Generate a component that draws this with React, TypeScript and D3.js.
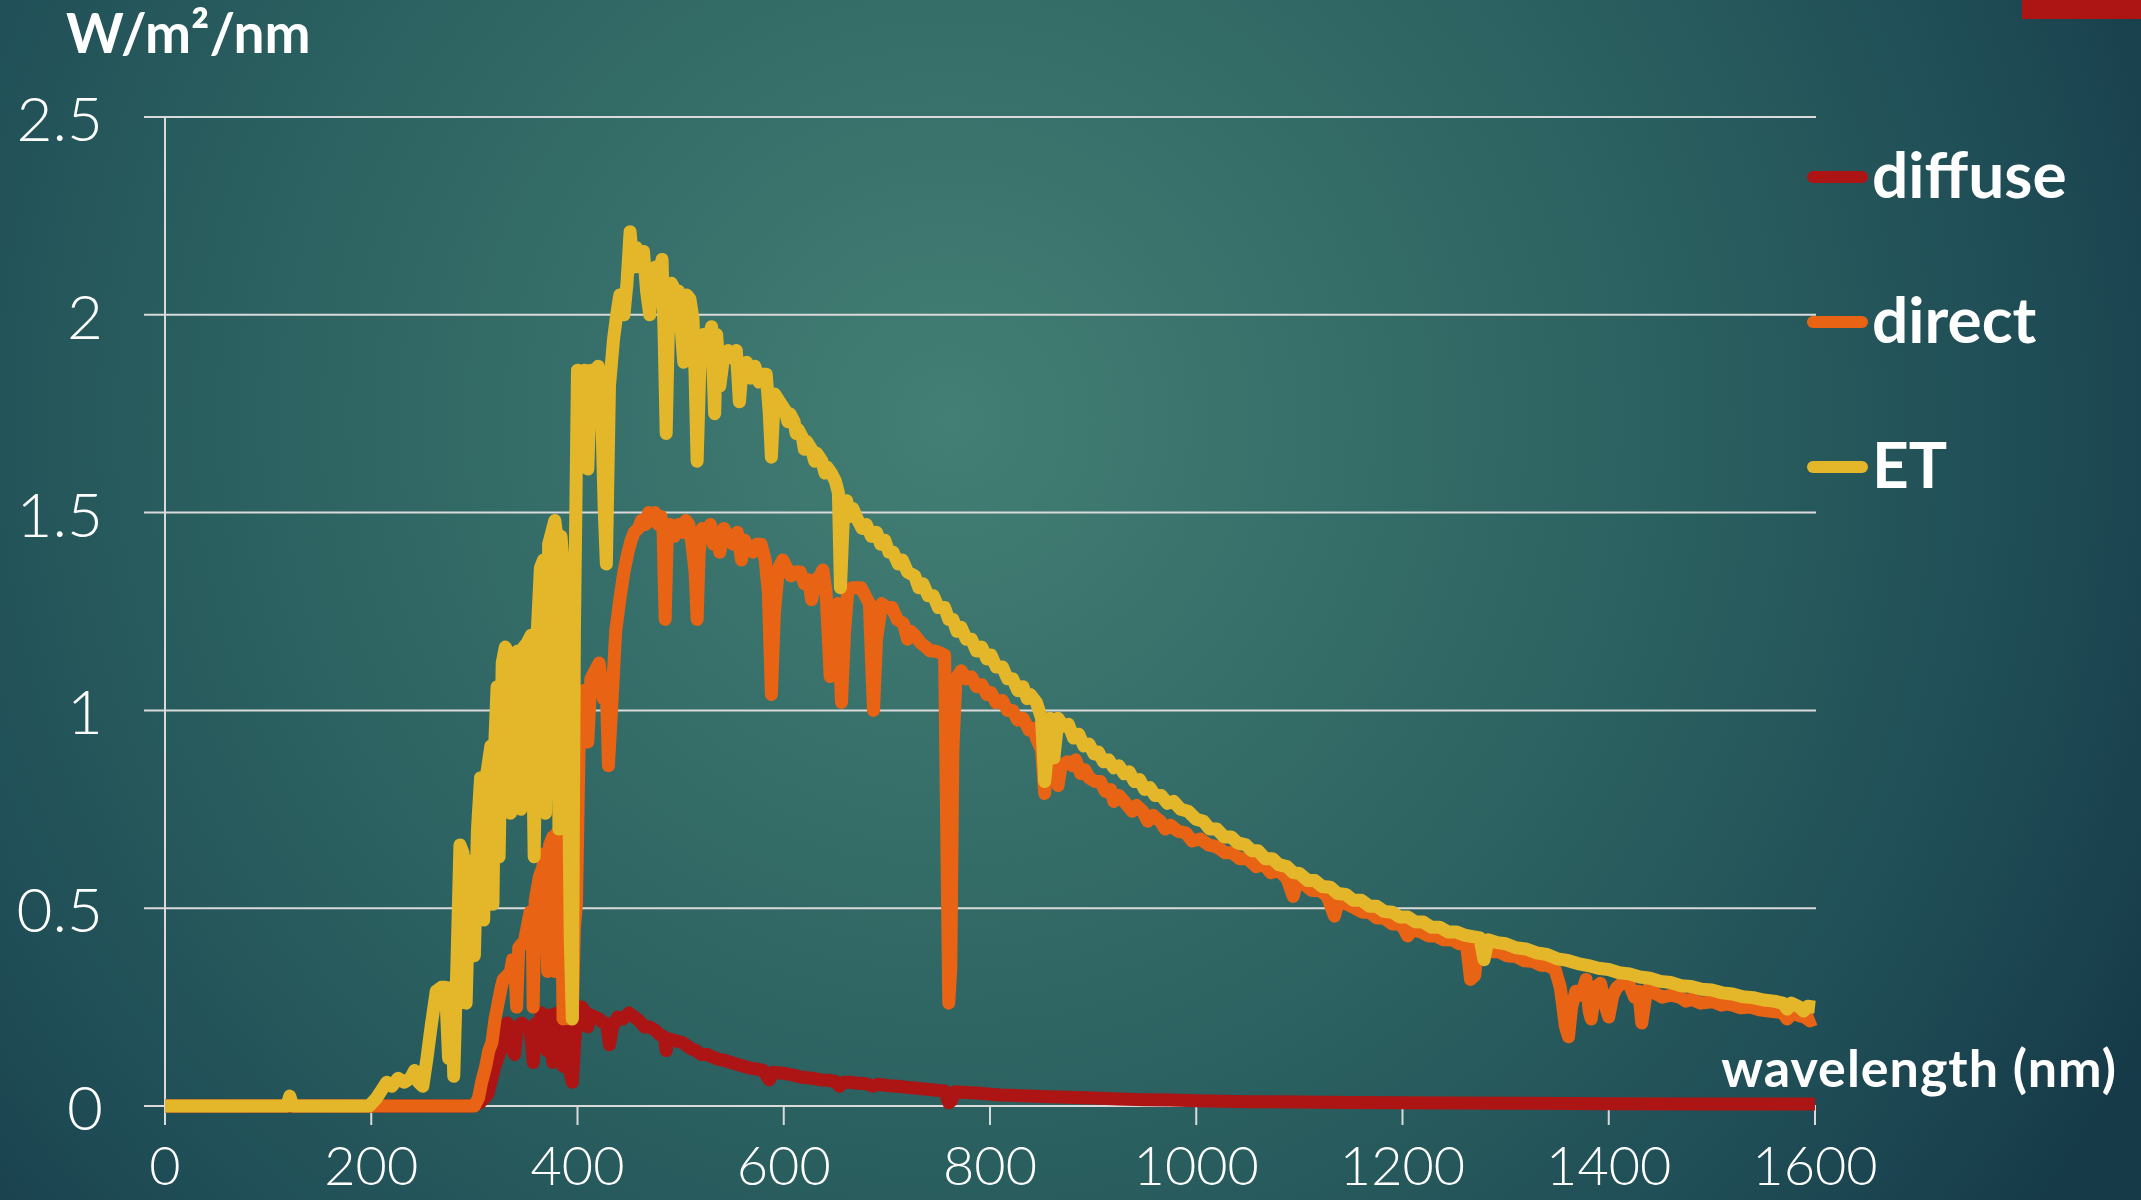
import { useEffect, useRef } from 'react'
import * as d3 from 'd3'

// ---- chart data ----
const xTicks = [0, 200, 400, 600, 800, 1000, 1200, 1400, 1600]
const yTicks = [0, 0.5, 1, 1.5, 2, 2.5]
const yTickLabels = ['0', '0.5', '1', '1.5', '2', '2.5']
const seriesNames = ['diffuse', 'direct', 'ET']
const seriesColors = ['#AD1515', '#E86414', '#E4B72A']

// [wavelength nm, W/m²/nm]
const diffuse: [number, number][] = [
	[0, 0], [300, 0], [306, 0.01], [310, 0.02], [313, 0.03], [317, 0.07], [320, 0.1], [324, 0.13],
	[328, 0.17], [332, 0.21], [335, 0.2], [337, 0.14], [339, 0.13], [342, 0.2], [346, 0.21], [350, 0.2],
	[354, 0.2], [357, 0.11], [360, 0.21], [363, 0.2], [365, 0.235], [368, 0.22], [370, 0.14], [373, 0.23],
	[376, 0.11], [378, 0.2], [380, 0.235], [383, 0.21], [386, 0.1], [388, 0.19], [391, 0.225], [393, 0.08],
	[395, 0.06], [397, 0.15], [400, 0.25], [404, 0.25], [407, 0.24], [410, 0.2], [413, 0.23], [417, 0.225],
	[421, 0.22], [425, 0.21], [428, 0.21], [431, 0.155], [434, 0.2], [439, 0.225], [444, 0.22], [450, 0.235],
	[455, 0.225], [460, 0.215], [465, 0.2], [470, 0.2], [476, 0.19], [480, 0.18], [484, 0.175], [486, 0.14],
	[488, 0.17], [495, 0.165], [502, 0.16], [510, 0.145], [515, 0.14], [520, 0.13], [526, 0.13], [530, 0.125],
	[537, 0.118], [543, 0.115], [549, 0.11], [555, 0.105], [562, 0.1], [569, 0.095], [575, 0.093], [580, 0.09],
	[586, 0.066], [590, 0.085], [599, 0.083], [605, 0.08], [610, 0.078], [615, 0.074], [620, 0.072], [628, 0.07],
	[636, 0.066], [643, 0.065], [650, 0.062], [654, 0.05], [658, 0.06], [664, 0.06], [670, 0.058], [680, 0.056],
	[687, 0.05], [691, 0.055], [700, 0.052], [710, 0.05], [720, 0.047], [730, 0.045], [740, 0.042], [748, 0.04],
	[756, 0.038], [760, 0.008], [763, 0.015], [766, 0.036], [773, 0.035], [790, 0.032], [810, 0.028], [830, 0.026],
	[850, 0.024], [875, 0.022], [900, 0.02], [925, 0.018], [950, 0.016], [975, 0.015], [1000, 0.013], [1050, 0.011],
	[1100, 0.01], [1150, 0.009], [1200, 0.008], [1300, 0.007], [1400, 0.006], [1500, 0.005], [1600, 0.005],
]

const direct: [number, number][] = [
	[0, 0], [300, 0], [304, 0.02], [307, 0.06], [311, 0.1], [314, 0.14], [317, 0.16], [320, 0.22],
	[323, 0.26], [326, 0.3], [328, 0.32], [332, 0.33], [335, 0.34], [337, 0.37], [339, 0.37], [341, 0.25],
	[343, 0.4], [346, 0.41], [348, 0.41], [351, 0.45], [354, 0.49], [356, 0.49], [357, 0.25], [359, 0.52],
	[363, 0.58], [366, 0.6], [369, 0.64], [371, 0.34], [373, 0.66], [376, 0.68], [378, 0.34], [380, 0.69],
	[384, 0.665], [386, 0.22], [388, 0.62], [391, 0.63], [393, 0.22], [395, 0.225], [397, 0.45], [399, 0.51],
	[402, 0.98], [404, 1.03], [406, 1.05], [410, 0.92], [413, 1.08], [417, 1.1], [421, 1.12], [425, 1.03],
	[428, 1.05], [430, 0.86], [433, 1.0], [437, 1.2], [441, 1.28], [445, 1.35], [449, 1.4], [452, 1.43],
	[455, 1.45], [459, 1.46], [462, 1.48], [466, 1.47], [469, 1.5], [472, 1.48], [475, 1.5], [478, 1.47],
	[481, 1.49], [483, 1.45], [485, 1.23], [487, 1.44], [490, 1.47], [494, 1.44], [498, 1.47], [502, 1.45],
	[505, 1.48], [508, 1.47], [511, 1.42], [514, 1.35], [516, 1.23], [518, 1.4], [521, 1.46], [525, 1.45],
	[529, 1.47], [532, 1.42], [535, 1.45], [538, 1.4], [542, 1.46], [547, 1.43], [551, 1.42], [555, 1.45],
	[559, 1.38], [562, 1.43], [566, 1.41], [570, 1.4], [574, 1.42], [578, 1.42], [582, 1.38], [585, 1.3],
	[588, 1.04], [591, 1.25], [595, 1.36], [599, 1.38], [603, 1.36], [607, 1.34], [611, 1.35], [616, 1.35],
	[620, 1.32], [624, 1.33], [627, 1.28], [631, 1.33], [635, 1.34], [638, 1.355], [641, 1.3], [645, 1.085],
	[648, 1.25], [652, 1.27], [656, 1.02], [659, 1.2], [662, 1.3], [666, 1.31], [670, 1.31], [675, 1.31],
	[679, 1.29], [683, 1.27], [687, 1.0], [690, 1.18], [695, 1.27], [700, 1.26], [705, 1.26], [710, 1.23],
	[716, 1.22], [720, 1.18], [723, 1.2], [727, 1.19], [733, 1.17], [738, 1.16], [742, 1.15], [747, 1.15],
	[752, 1.145], [756, 1.14], [758, 0.7], [760, 0.26], [762, 0.35], [764, 0.9], [767, 1.08], [772, 1.1],
	[777, 1.08], [782, 1.085], [787, 1.06], [792, 1.065], [797, 1.04], [801, 1.045], [806, 1.02], [812, 1.025],
	[817, 1.0], [822, 1.0], [827, 0.975], [832, 0.98], [838, 0.95], [842, 0.955], [845, 0.93], [850, 0.9],
	[853, 0.79], [856, 0.9], [860, 0.88], [863, 0.85], [866, 0.81], [869, 0.86], [875, 0.87], [880, 0.86],
	[883, 0.875], [888, 0.84], [892, 0.85], [896, 0.83], [902, 0.82], [907, 0.82], [912, 0.795], [917, 0.8],
	[920, 0.77], [925, 0.785], [930, 0.77], [938, 0.745], [942, 0.76], [948, 0.745], [953, 0.72], [958, 0.735],
	[965, 0.72], [970, 0.7], [975, 0.71], [982, 0.695], [990, 0.69], [996, 0.67], [1004, 0.675], [1012, 0.66],
	[1020, 0.655], [1028, 0.64], [1035, 0.64], [1042, 0.625], [1050, 0.625], [1058, 0.605], [1066, 0.61],
	[1072, 0.59], [1080, 0.595], [1088, 0.575], [1094, 0.53], [1098, 0.57], [1105, 0.56], [1112, 0.545],
	[1120, 0.545], [1127, 0.53], [1134, 0.48], [1138, 0.52], [1146, 0.51], [1154, 0.5], [1161, 0.49],
	[1168, 0.49], [1175, 0.475], [1182, 0.475], [1190, 0.46], [1197, 0.46], [1201, 0.45], [1205, 0.43],
	[1210, 0.445], [1218, 0.44], [1225, 0.43], [1232, 0.43], [1240, 0.42], [1248, 0.42], [1255, 0.41],
	[1262, 0.41], [1266, 0.32], [1270, 0.33], [1273, 0.4], [1280, 0.4], [1285, 0.39], [1293, 0.39],
	[1301, 0.38], [1310, 0.378], [1318, 0.367], [1326, 0.366], [1334, 0.356], [1341, 0.355], [1348, 0.345],
	[1353, 0.3], [1355, 0.26], [1358, 0.2], [1361, 0.175], [1364, 0.25], [1368, 0.29], [1373, 0.28], [1378, 0.32],
	[1381, 0.24], [1383, 0.22], [1387, 0.3], [1392, 0.31], [1397, 0.25], [1400, 0.225], [1404, 0.28], [1408, 0.3],
	[1413, 0.31], [1417, 0.32], [1421, 0.3], [1425, 0.275], [1429, 0.29], [1432, 0.21], [1436, 0.28], [1439, 0.3],
	[1445, 0.285], [1452, 0.275], [1460, 0.28], [1469, 0.275], [1475, 0.265], [1480, 0.27], [1489, 0.26],
	[1495, 0.262], [1500, 0.265], [1509, 0.255], [1515, 0.258], [1520, 0.255], [1528, 0.248], [1537, 0.25],
	[1546, 0.243], [1555, 0.24], [1562, 0.238], [1569, 0.235], [1573, 0.22], [1578, 0.235], [1585, 0.228],
	[1590, 0.225], [1595, 0.215], [1600, 0.22],
]

const et: [number, number][] = [
	[0, 0], [118, 0], [121, 0.025], [124, 0], [198, 0], [205, 0.02], [210, 0.04], [215, 0.06],
	[220, 0.05], [226, 0.07], [232, 0.06], [238, 0.07], [242, 0.09], [246, 0.06], [250, 0.05], [254, 0.12],
	[258, 0.2], [263, 0.29], [268, 0.3], [272, 0.3], [275, 0.12], [278, 0.3], [280, 0.075], [283, 0.35],
	[286, 0.66], [289, 0.64], [292, 0.26], [295, 0.56], [298, 0.62], [300, 0.38], [303, 0.7], [306, 0.83],
	[309, 0.47], [312, 0.84], [316, 0.91], [318, 0.51], [320, 0.93], [322, 1.06], [324, 0.63], [327, 1.12],
	[330, 1.16], [333, 1.14], [335, 0.74], [338, 1.14], [342, 1.15], [345, 0.75], [348, 1.16], [351, 1.17],
	[355, 1.19], [358, 0.63], [361, 1.2], [364, 1.36], [367, 1.38], [369, 0.74], [372, 1.42], [375, 1.45],
	[378, 1.48], [380, 1.44], [382, 0.7], [384, 1.44], [387, 1.34], [390, 1.2], [393, 0.42], [395, 0.22],
	[397, 1.2], [400, 1.86], [404, 1.83], [407, 1.86], [410, 1.61], [413, 1.86], [417, 1.85], [420, 1.87],
	[423, 1.8], [426, 1.5], [428, 1.37], [431, 1.82], [435, 1.94], [438, 2.0], [441, 2.05], [445, 2.0],
	[448, 2.08], [451, 2.21], [454, 2.12], [457, 2.17], [461, 2.12], [464, 2.16], [467, 2.06], [470, 2.0],
	[473, 2.1], [475, 2.12], [479, 2.1], [482, 2.14], [484, 1.95], [486, 1.7], [488, 1.95], [491, 2.08],
	[495, 2.06], [498, 2.06], [501, 1.95], [503, 1.88], [506, 2.05], [509, 2.04], [512, 1.99], [514, 1.85],
	[516, 1.63], [519, 1.9], [522, 1.95], [526, 1.93], [530, 1.97], [533, 1.75], [535, 1.95], [538, 1.82],
	[542, 1.9], [546, 1.91], [550, 1.89], [554, 1.91], [557, 1.78], [560, 1.87], [564, 1.88], [568, 1.84],
	[572, 1.87], [576, 1.83], [580, 1.85], [583, 1.85], [586, 1.75], [588, 1.64], [591, 1.8], [596, 1.78],
	[601, 1.76], [604, 1.73], [606, 1.75], [610, 1.73], [612, 1.7], [614, 1.71], [618, 1.69], [620, 1.66],
	[622, 1.68], [627, 1.66], [630, 1.63], [632, 1.65], [637, 1.63], [640, 1.6], [642, 1.615], [646, 1.6],
	[650, 1.58], [653, 1.55], [655, 1.31], [658, 1.5], [661, 1.53], [664, 1.49], [667, 1.51], [672, 1.48],
	[676, 1.46], [680, 1.47], [685, 1.44], [690, 1.45], [694, 1.42], [698, 1.43], [702, 1.4], [706, 1.4],
	[711, 1.37], [715, 1.38], [720, 1.35], [727, 1.34], [731, 1.31], [735, 1.32], [740, 1.29], [745, 1.29],
	[750, 1.26], [756, 1.26], [760, 1.23], [764, 1.23], [768, 1.2], [772, 1.21], [777, 1.18], [782, 1.18],
	[787, 1.15], [792, 1.16], [797, 1.13], [801, 1.14], [806, 1.11], [812, 1.11], [817, 1.08], [822, 1.08],
	[827, 1.05], [832, 1.06], [836, 1.03], [839, 1.04], [845, 1.02], [850, 0.98], [853, 0.82], [856, 0.9],
	[858, 0.98], [862, 0.88], [866, 0.98], [871, 0.96], [876, 0.965], [881, 0.93], [886, 0.94], [891, 0.91],
	[896, 0.915], [901, 0.89], [905, 0.895], [910, 0.87], [915, 0.875], [920, 0.855], [925, 0.86], [930, 0.84],
	[935, 0.845], [940, 0.82], [945, 0.825], [950, 0.8], [955, 0.805], [960, 0.785], [966, 0.785], [972, 0.765],
	[978, 0.77], [985, 0.75], [992, 0.745], [1000, 0.725], [1007, 0.72], [1013, 0.7], [1020, 0.7], [1027, 0.68],
	[1034, 0.68], [1040, 0.665], [1048, 0.66], [1054, 0.645], [1060, 0.645], [1067, 0.625], [1074, 0.625],
	[1080, 0.61], [1088, 0.605], [1094, 0.59], [1100, 0.588], [1108, 0.57], [1115, 0.57], [1122, 0.555],
	[1130, 0.553], [1137, 0.537], [1145, 0.535], [1152, 0.52], [1160, 0.52], [1168, 0.505], [1175, 0.505],
	[1182, 0.492], [1190, 0.49], [1197, 0.478], [1205, 0.478], [1212, 0.466], [1220, 0.465], [1228, 0.452],
	[1236, 0.452], [1244, 0.44], [1252, 0.44], [1260, 0.432], [1268, 0.428], [1275, 0.425], [1279, 0.37],
	[1283, 0.42], [1292, 0.413], [1300, 0.41], [1310, 0.4], [1320, 0.397], [1330, 0.387], [1340, 0.383],
	[1350, 0.372], [1360, 0.368], [1370, 0.36], [1380, 0.355], [1390, 0.348], [1400, 0.345], [1410, 0.337],
	[1420, 0.334], [1430, 0.326], [1440, 0.323], [1450, 0.315], [1460, 0.312], [1470, 0.304], [1480, 0.302],
	[1490, 0.295], [1500, 0.293], [1510, 0.286], [1520, 0.283], [1530, 0.276], [1540, 0.274], [1550, 0.268],
	[1560, 0.265], [1569, 0.26], [1573, 0.245], [1577, 0.26], [1585, 0.25], [1589, 0.24], [1593, 0.252],
	[1600, 0.25],
]

const seriesData = [diffuse, direct, et]

function App() {
	const ref = useRef<SVGSVGElement>(null)

	useEffect(() => {
		const width = 2141, height = 1200
		const svg = d3.select(ref.current)
		svg.selectAll('*').remove()

		// background
		const grad = svg.append('defs').append('radialGradient')
			.attr('id', 'bg')
			.attr('gradientUnits', 'userSpaceOnUse')
			.attr('cx', 950).attr('cy', 420).attr('r', 1350)
		grad.append('stop').attr('offset', 0).attr('stop-color', '#437F74')
		grad.append('stop').attr('offset', 0.55).attr('stop-color', '#2A5F5F')
		grad.append('stop').attr('offset', 0.8).attr('stop-color', '#1F4D56')
		grad.append('stop').attr('offset', 1).attr('stop-color', '#163A48')
		svg.append('rect').attr('width', width).attr('height', height).attr('fill', 'url(#bg)')

		// red corner tab
		svg.append('rect').attr('x', 2022).attr('y', 0).attr('width', 119).attr('height', 19).attr('fill', '#AD1515')

		const x = d3.scaleLinear().domain([0, 1600]).range([165, 1815])
		const y = d3.scaleLinear().domain([0, 2.5]).range([1106, 117])

		const fontFamily = "Lato, 'Noto Sans', sans-serif"
		const gridColor = '#DADADA'

		// horizontal grid + y tick marks
		svg.append('g').selectAll('line')
			.data(yTicks)
			.join('line')
			.attr('x1', x(0) - 21).attr('x2', x(1600) + 1)
			.attr('y1', d => y(d)).attr('y2', d => y(d))
			.attr('stroke', gridColor).attr('stroke-width', 2)

		// y axis line
		svg.append('line')
			.attr('x1', x(0)).attr('x2', x(0))
			.attr('y1', y(2.5)).attr('y2', y(0))
			.attr('stroke', gridColor).attr('stroke-width', 2)

		// x tick marks
		svg.append('g').selectAll('line')
			.data(xTicks)
			.join('line')
			.attr('x1', d => x(d)).attr('x2', d => x(d))
			.attr('y1', y(0)).attr('y2', y(0) + 19)
			.attr('stroke', gridColor).attr('stroke-width', 2)

		// y tick labels
		svg.append('g').selectAll('text')
			.data(yTicks)
			.join('text')
			.attr('x', 103).attr('y', d => y(d))
			.attr('text-anchor', 'end').attr('dominant-baseline', 'central')
			.attr('fill', '#fff').attr('font-family', fontFamily).attr('font-weight', 300)
			.attr('font-size', 62)
			.text((d, i) => yTickLabels[i])

		// x tick labels
		svg.append('g').selectAll('text')
			.data(xTicks)
			.join('text')
			.attr('x', d => x(d)).attr('y', 1185)
			.attr('text-anchor', 'middle')
			.attr('fill', '#fff').attr('font-family', fontFamily).attr('font-weight', 300)
			.attr('font-size', 54)
			.text(d => String(d))

		// series lines (diffuse bottom, ET on top)
		const line = d3.line<[number, number]>()
			.x(d => x(d[0]))
			.y(d => y(d[1]))

		svg.append('g').selectAll('path')
			.data(seriesData)
			.join('path')
			.attr('d', d => line(d))
			.attr('fill', 'none')
			.attr('stroke', (d, i) => seriesColors[i])
			.attr('stroke-width', 13)
			.attr('stroke-linejoin', 'round')
			.attr('stroke-linecap', 'butt')

		// axis titles
		svg.append('text')
			.attr('x', 66).attr('y', 53)
			.attr('fill', '#fff').attr('font-family', fontFamily).attr('font-weight', 700)
			.attr('font-size', 55)
			.text('W/m²/nm')

		svg.append('text')
			.attr('x', 2117).attr('y', 1087)
			.attr('text-anchor', 'end')
			.attr('fill', '#fff').attr('font-family', fontFamily).attr('font-weight', 700)
			.attr('font-size', 52).attr('letter-spacing', 1)
			.text('wavelength (nm)')

		// legend
		const legend = svg.append('g').selectAll('g')
			.data(seriesNames)
			.join('g')
			.attr('transform', (d, i) => `translate(0, ${177 + i * 145})`)
		legend.append('line')
			.attr('x1', 1813).attr('x2', 1862)
			.attr('y1', 0).attr('y2', 0)
			.attr('stroke', (d, i) => seriesColors[i])
			.attr('stroke-width', 12)
			.attr('stroke-linecap', 'round')
		legend.append('text')
			.attr('x', 1872).attr('y', 21)
			.attr('fill', '#fff').attr('font-family', fontFamily).attr('font-weight', 700)
			.attr('font-size', 64)
			.text(d => d)
	}, [])

	return (
		<div style={{ position: 'absolute', left: 0, top: 0 }}>
			<svg ref={ref} width={2141} height={1200} style={{ display: 'block' }} />
		</div>
	)
}

export default App
